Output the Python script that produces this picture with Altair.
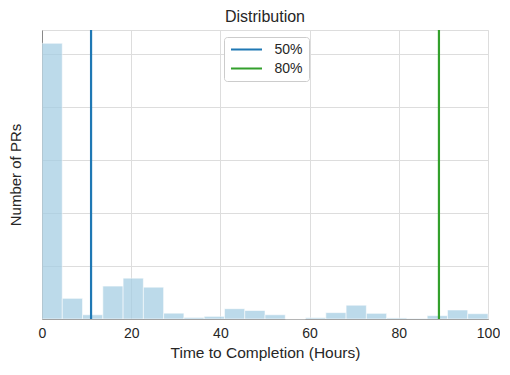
import altair as alt
import pandas as pd

# Histogram: 22 equal bins over 0..100 hours (heights in grid units)
bin_count = 22
bin_heights = [5.20, 0.39, 0.08, 0.62, 0.77, 0.60, 0.11, 0.03, 0.05, 0.195, 0.16,
               0.08, 0.0, 0.025, 0.12, 0.26, 0.107, 0.02, 0.01, 0.063, 0.17, 0.10]
bin_width = 100 / bin_count
bin_start = [i * bin_width for i in range(bin_count)]
bin_end = [(i + 1) * bin_width for i in range(bin_count)]

pct_labels = ["50%", "80%"]
pct_values = [11.0, 89.0]
pct_colors = ["#1f78b4", "#33a02c"]

x_ticks = [0, 20, 40, 60, 80, 100]
y_ticks = [0, 1, 2, 3, 4, 5]

hist = pd.DataFrame({"start": bin_start, "end": bin_end, "count": bin_heights})
pcts = pd.DataFrame({"label": pct_labels, "value": pct_values})

FONT = "Liberation Sans"
TXT = "#262626"

bars = alt.Chart(hist).mark_rect(
    color="#a6cee3", opacity=0.75, stroke="white", strokeWidth=0.6
).encode(
    x=alt.X("start:Q", scale=alt.Scale(domain=[0, 100], nice=False, zero=False),
            axis=alt.Axis(values=x_ticks, title="Time to Completion (Hours)", ticks=False,
                          labelPadding=7, titlePadding=5, grid=True, labelFlush=False,
                          labelFont=FONT, labelFontSize=14, labelColor=TXT,
                          titleFontWeight="normal", titleFont=FONT, titleFontSize=15.5,
                          titleColor=TXT)),
    x2="end:Q",
    y=alt.Y("count:Q", scale=alt.Scale(domain=[0, 5.45], nice=False),
            axis=alt.Axis(values=y_ticks, labels=False, ticks=False, title="Number of PRs",
                          titlePadding=19, grid=True,
                          titleFontWeight="normal", titleFont=FONT, titleFontSize=15,
                          titleColor=TXT)),
    y2=alt.datum(0),
)

rules = alt.Chart(pcts).mark_rule(strokeWidth=2.2).encode(
    x="value:Q",
    color=alt.Color("label:N", scale=alt.Scale(domain=pct_labels, range=pct_colors),
                    legend=alt.Legend(title=None, orient="none", legendX=182, legendY=7,
                                      symbolType="stroke", symbolStrokeWidth=2.2,
                                      symbolSize=961, clipHeight=14,
                                      labelFontSize=14, labelFont=FONT,
                                      labelColor=TXT, fillColor="white",
                                      strokeColor="#cccccc", cornerRadius=3, padding=5.5,
                                      rowPadding=5, labelOffset=11)),
)

chart = alt.layer(bars, rules).properties(
    width=446, height=289,
    title=alt.TitleParams("Distribution", fontSize=16, font=FONT, fontWeight="normal",
                          color=TXT, offset=4),
    padding={"left": 0, "top": 0, "right": 0, "bottom": 0},
).configure_view(
    stroke="#cccccc", strokeWidth=1.5
).configure_axis(
    gridColor="#d4d4d4", gridWidth=1.3, domain=False,
).configure(background="white")

chart.save("out.html", embed_options={"renderer": "svg", "actions": False})
